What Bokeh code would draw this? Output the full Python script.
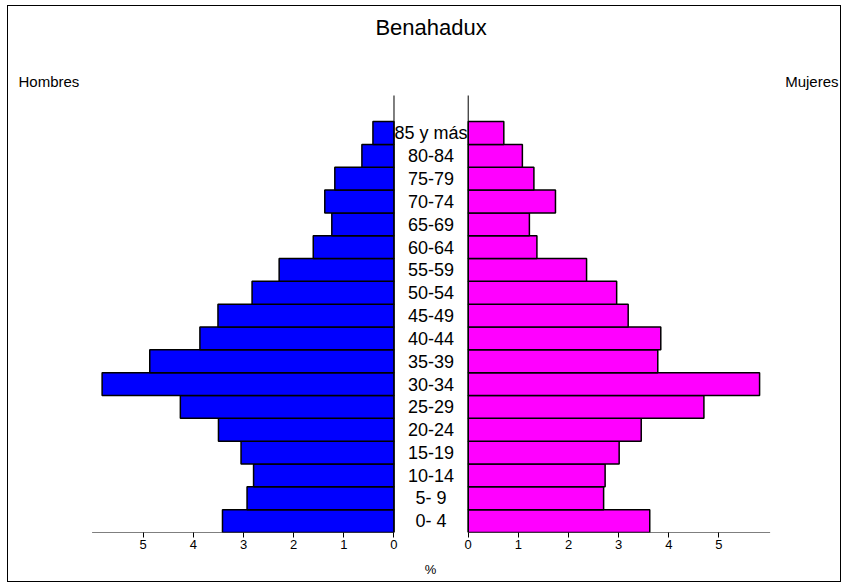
from bokeh.plotting import figure
from bokeh.models import Range1d, FixedTicker, CustomJSTickFormatter, Label, ColumnDataSource
from bokeh.core.properties import value
from bokeh.embed import file_html
from bokeh.resources import INLINE

# ---- data (percent of population) ----
ages = ["0- 4", "5- 9", "10-14", "15-19", "20-24", "25-29", "30-34", "35-39", "40-44",
        "45-49", "50-54", "55-59", "60-64", "65-69", "70-74", "75-79", "80-84", "85 y más"]
hombres = [3.42, 2.93, 2.80, 3.05, 3.50, 4.26, 5.82, 4.87, 3.87,
           3.51, 2.83, 2.29, 1.61, 1.24, 1.38, 1.18, 0.64, 0.42]
mujeres = [3.62, 2.70, 2.73, 3.01, 3.45, 4.70, 5.81, 3.78, 3.84,
           3.19, 2.96, 2.36, 1.37, 1.22, 1.74, 1.31, 1.08, 0.71]
tick_values = [0, 1, 2, 3, 4, 5]
axis_extent = 6.02

# ---- layout constants (pixels, canvas coordinates) ----
W, H = 834, 577
MB_LEFT, MB_BOTTOM = 10, 51
FRAME_H = H - MB_BOTTOM
CX = 422.6          # canvas x of the centre of the pyramid
PX = 50.15          # pixels per percent
PY = 22.83          # pixels per age group
G = 0.74            # half gap between the two halves (in percent units)
FONT = "Liberation Sans"

x0 = -(CX - MB_LEFT) / PX
x1 = (W - CX) / PX
y0 = -0.5
y1 = y0 + FRAME_H / PY

p = figure(width=W, height=H, output_backend="svg", toolbar_location=None,
           x_range=Range1d(x0, x1), y_range=Range1d(y0, y1),
           min_border_left=MB_LEFT, min_border_right=0, min_border_top=0,
           min_border_bottom=MB_BOTTOM, x_axis_location="below",
           y_axis_location=None, tools="")
p.styles = {"border": "1px solid black", "margin": "5px 0px 0px 7px"}
p.outline_line_color = None
p.xgrid.visible = False
p.ygrid.visible = False
p.background_fill_color = "white"
p.border_fill_color = "white"

idx = list(range(len(ages)))
src = ColumnDataSource(dict(
    y=idx, age=ages,
    m_left=[-G - v for v in hombres], m_right=[-G] * len(ages),
    f_left=[G] * len(ages), f_right=[G + v for v in mujeres],
    zero=[0] * len(ages),
))

p.hbar(y="y", left="m_left", right="m_right", height=1.0, source=src,
       fill_color="#0000FF", line_color="black", line_width=1.5)
p.hbar(y="y", left="f_left", right="f_right", height=1.0, source=src,
       fill_color="#FF00FF", line_color="black", line_width=1.5)

# age group labels in the middle
p.text(x="zero", y="y", text="age", source=src, text_font=value(FONT),
       text_font_size="18px", text_align="center", text_baseline="middle",
       text_color="black")

# axis lines (broken between the halves) and the two vertical zero lines
y_top_lines = y1 - 89 / PY
p.segment(x0=[-G - axis_extent, G], y0=[y0, y0], x1=[-G, G + axis_extent], y1=[y0, y0],
          line_color="black", line_width=1)
p.segment(x0=[-G, G], y0=[y0, y0], x1=[-G, G], y1=[y_top_lines, y_top_lines],
          line_color="black", line_width=1)

# x axis
ax = p.xaxis[0]
ax.ticker = FixedTicker(ticks=[-G - t for t in tick_values] + [G + t for t in tick_values])
ax.formatter = CustomJSTickFormatter(args=dict(g=G),
                                     code="return String(Math.round(Math.abs(tick) - g));")
ax.axis_line_color = None
ax.major_tick_out = 5
ax.major_tick_in = 0
ax.minor_tick_line_color = None
ax.major_tick_line_color = "black"
ax.major_label_text_font = FONT
ax.major_label_text_font_size = "13px"
ax.major_label_text_color = "black"
ax.major_label_standoff = 2
ax.axis_label = "%"
ax.axis_label_text_font = FONT
ax.axis_label_text_font_size = "13px"
ax.axis_label_text_font_style = "normal"
ax.axis_label_text_color = "black"
ax.axis_label_standoff = 10

# titles
p.add_layout(Label(x=0, y=y1 - 21 / PY, text="Benahadux",
                   text_font=FONT, text_font_size="22px", text_align="center",
                   text_baseline="middle", text_color="black"))
p.add_layout(Label(x=x0, y=y1 - 75 / PY, text="Hombres", text_font=FONT,
                   text_font_size="15px", text_align="left", text_baseline="middle",
                   text_color="black"))
p.add_layout(Label(x=(830 - CX) / PX, y=y1 - 75 / PY, text="Mujeres", text_font=FONT,
                   text_font_size="15px", text_align="right", text_baseline="middle",
                   text_color="black"))

open("out.html", "w").write(file_html(p, INLINE))
